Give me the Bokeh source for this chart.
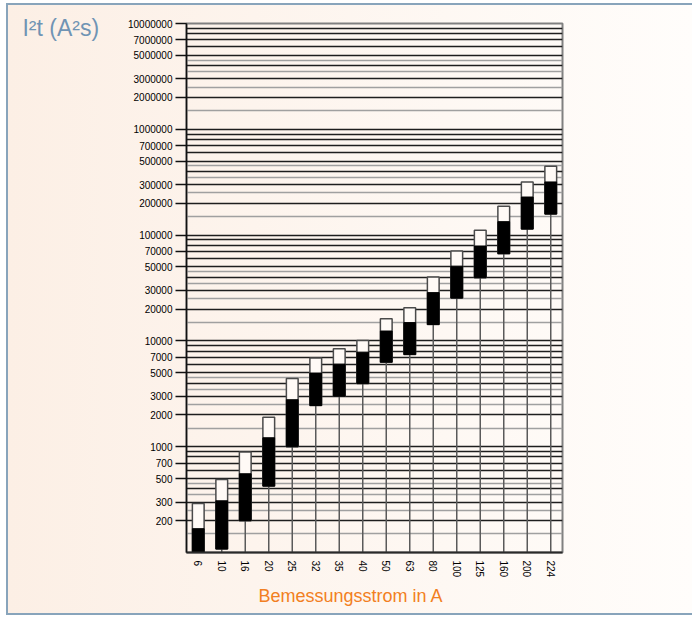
from bokeh.plotting import figure
from bokeh.models import (Range1d, FactorRange, FixedTicker, Grid, Label,
                          NumeralTickFormatter, Title)
from bokeh.embed import file_html
from bokeh.resources import INLINE

# ---- data ----
categories = ["6", "10", "16", "20", "25", "32", "35", "40", "50", "63",
              "80", "100", "125", "160", "200", "224"]
low_values = [100, 108, 200, 424, 1000, 2450, 3000, 3950, 6300, 7450,
              14300, 25400, 39600, 66800, 114000, 158000]
mid_values = [168, 308, 555, 1215, 2780, 4970, 6040, 7830, 12400, 14900,
              28600, 50900, 78900, 134000, 229000, 318000]
high_values = [290, 490, 890, 1900, 4400, 6900, 8440, 10100, 16200, 20600,
               40100, 70600, 111000, 187000, 318000, 447000]

y_tick_values = [200, 300, 500, 700, 1000, 2000, 3000, 5000, 7000,
                 10000, 20000, 30000, 50000, 70000, 100000, 200000, 300000,
                 500000, 700000, 1000000, 2000000, 3000000, 5000000, 7000000,
                 10000000]
dark_grid_mantissas = [1, 2, 3, 4, 5, 6, 7, 8, 9]
light_grid_mantissas = [1.5, 2.5, 3.5, 4.5]
decades = [100, 1000, 10000, 100000, 1000000]

y_title = "I²t (A²s)"
x_title = "Bemessungsstrom in A"

dark_grid = [m * d for d in decades for m in dark_grid_mantissas if m * d > 100]
light_grid = [m * d for d in decades for m in light_grid_mantissas] + [10000000]

FONT = "Liberation Sans"

p = figure(width=686, height=612, x_range=FactorRange(*categories),
           y_range=Range1d(100, 10000000), y_axis_type="log",
           output_backend="svg", toolbar_location=None,
           min_border_left=178, min_border_right=132,
           min_border_top=18, min_border_bottom=65)

p.styles = {"margin-left": "6px", "margin-top": "3px",
            "border-left": "2px solid #88a4bb",
            "border-top": "2px solid #88a4bb",
            "border-bottom": "2px solid #88a4bb",
            "background": "linear-gradient(to right, #fcefe5, #fffdfb)"}

p.background_fill_alpha = 0
p.border_fill_alpha = 0
p.outline_line_color = "#808080"
p.outline_line_width = 2

p.xgrid.visible = False
p.ygrid.visible = False

g_light = Grid(dimension=1, ticker=FixedTicker(ticks=light_grid),
               grid_line_color="#a0a0a0", grid_line_width=1.4)
g_dark = Grid(dimension=1, ticker=FixedTicker(ticks=dark_grid),
              grid_line_color="#1e1e1e", grid_line_width=1.4)
p.add_layout(g_light)
p.add_layout(g_dark)

# stems from the bottom up to the bars
p.segment(x0=categories, y0=[100] * len(categories), x1=categories,
          y1=low_values, line_color="#5a5a5a", line_width=1.5)

# white (upper) part drawn full height, black (lower) part on top
p.vbar(x=categories, bottom=low_values, top=high_values, width=0.5,
       fill_color="#fffaf6", line_color="#4a4a4a", line_width=1.5)
p.vbar(x=categories, bottom=low_values, top=mid_values, width=0.5,
       fill_color="#000000", line_color="#000000", line_width=1.0)

# y axis
ya = p.yaxis[0]
ya.ticker = FixedTicker(ticks=y_tick_values)
ya.formatter = NumeralTickFormatter(format="0")
ya.minor_tick_line_color = None
ya.major_tick_out = 11
ya.major_tick_in = 0
ya.major_label_standoff = 3
ya.axis_line_color = "#111111"
ya.axis_line_width = 1.5
ya.major_tick_line_color = "#111111"
ya.major_tick_line_width = 1.5
ya.major_label_text_font = FONT
ya.major_label_text_font_size = "10px"
ya.major_label_text_color = "#000000"

# x axis
xa = p.xaxis[0]
xa.major_label_orientation = "vertical"
xa.major_tick_out = 0
xa.major_tick_in = 0
xa.major_label_standoff = 8
xa.axis_line_color = "#2a2a2a"
xa.axis_line_width = 2
xa.major_label_text_font = FONT
xa.major_label_text_font_size = "10px"
xa.major_label_text_color = "#000000"

# x title below the plot
p.add_layout(Title(text=x_title, align="left", offset=72, standoff=7,
                   text_font=FONT, text_font_size="18px",
                   text_font_style="normal", text_color="#f27f22"), "below")

# y title in the left side panel
p.add_layout(Label(x=-6.98, y=6.9e6, text=y_title, text_font=FONT,
                   text_font_size="23px", text_color="#7094b4"), "left")

open("out.html", "w").write(file_html(p, INLINE))
